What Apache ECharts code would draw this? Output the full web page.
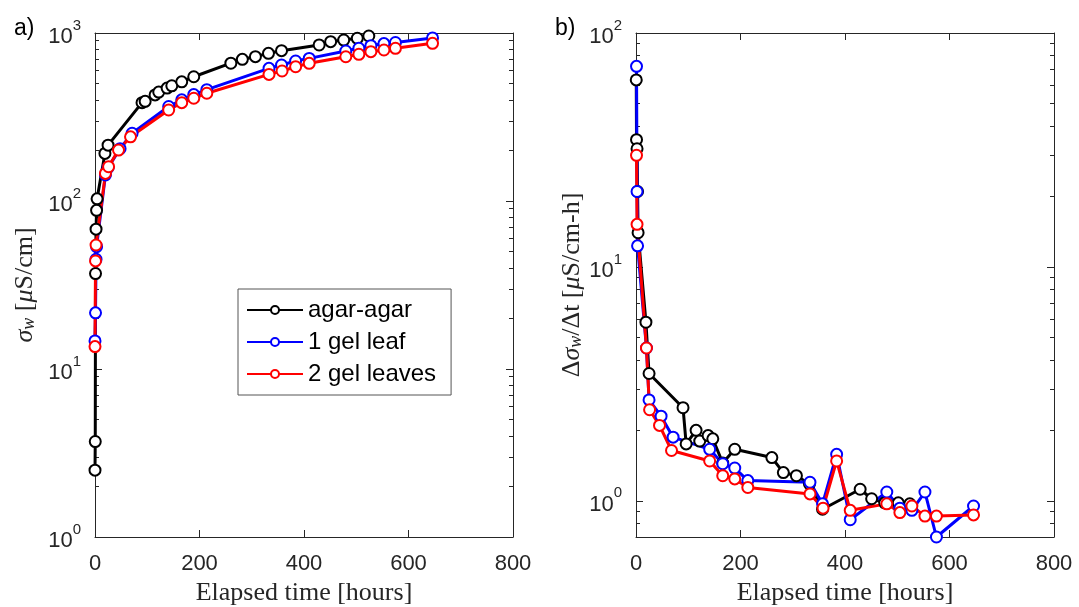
<!DOCTYPE html>
<html><head><meta charset="utf-8">
<script src="https://cdn.jsdelivr.net/npm/echarts@6/dist/echarts.min.js"></script>
<style>html,body{margin:0;padding:0;background:#fff}#c{width:1079px;height:607px}</style>
</head><body><div id="c"></div>
<script>
// ---- data (hours, conductivity µS/cm, rate µS/cm-h) ----
const tAgar = [0, 0.5, 1, 2, 3, 4, 19, 25, 90, 96, 115, 122, 138, 147, 166, 189, 260, 282, 307, 332, 357, 429, 451, 476, 502, 524];
const sigmaAgar = [2.5, 3.7, 37, 68, 88, 103, 192, 215, 385, 392, 428, 445, 470, 485, 512, 549, 661, 697, 723, 757, 785, 849, 888, 908, 930, 960];
const rateAgar = [63, 35, 32, 21, 14, 5.8, 3.5, 2.5, 1.75, 2.0, 1.8, 1.9, 1.84, 1.45, 1.66, 1.53, 1.32, 1.28, 1.18, 0.92, 1.12, 1.02, 0.98, 0.98, 0.97];

const tGel1 = [0, 1, 2, 3, 20, 25, 48, 71, 141, 166, 189, 214, 333, 357, 384, 410, 480, 505, 528, 553, 575, 646];
const sigmaGel1 = [14.7, 21.6, 45, 53.5, 143, 158, 205, 253, 365, 400, 430, 460, 616, 645, 681, 706, 781, 811, 840, 865, 878, 935];
const rateGel1 = [72, 21, 12.3, 4.5, 2.7, 2.3, 1.87, 1.66, 1.44, 1.38, 1.22, 1.2, 0.97, 1.58, 0.83, 1.09, 0.93, 0.91, 1.09, 0.70, 0.95];

const tGel2 = [0, 1, 2, 20, 26, 45, 68, 141, 166, 189, 214, 333, 358, 384, 410, 480, 505, 528, 553, 575, 646];
const sigmaGel2 = [13.6, 44, 54.7, 146, 160, 201, 241, 348, 385, 409, 438, 567, 594, 630, 660, 722, 747, 774, 792, 811, 868];
const rateGel2 = [30, 15.2, 4.5, 2.45, 2.1, 1.64, 1.48, 1.28, 1.24, 1.14, 1.07, 0.93, 1.48, 0.91, 0.97, 0.89, 0.95, 0.86, 0.86, 0.87];

const seriesNames = ['agar-agar', '1 gel leaf', '2 gel leaves'];
const seriesColors = ['#000000', '#0000ff', '#ff0000'];
const xTicks = [0, 200, 400, 600, 800];
const leftDecades = [1, 10, 100, 1000];
const rightDecades = [1, 10, 100];

// ---- helpers ----
const AX = '#262626';
function minorsBetween(lo, hi) {
  const out = [];
  for (let d = 0.1; d < hi; d *= 10) for (let k = 2; k <= 9; k++) { const v = +(k * d).toPrecision(6); if (v > lo && v < hi) out.push(v); }
  return out;
}
function pair(ts, vs, offset) { return vs.map((v, i) => [ts[i + offset], v]); }

const grids = [
  { left: 95, top: 33, width: 418, height: 504, containLabel: false, outerBoundsMode: 'none' },
  { left: 636, top: 33, width: 418, height: 504, containLabel: false, outerBoundsMode: 'none' }
];
const xAxes = [], yAxes = [];
grids.forEach((g, gi) => {
  const xBase = { type: 'value', gridIndex: gi, min: xTicks[0], max: xTicks[xTicks.length - 1], interval: 200,
    axisLine: { show: true, lineStyle: { color: AX, width: 1 } },
    axisTick: { show: true, inside: true, length: 7, lineStyle: { color: AX } },
    splitLine: { show: false } };
  xAxes.push(Object.assign({}, xBase, { position: 'bottom',
    axisLabel: { show: true, color: AX, fontSize: 22, fontFamily: 'Liberation Sans', margin: 16 },
    name: 'Elapsed time [hours]', nameLocation: 'middle', nameGap: 43,
    nameTextStyle: { color: AX, fontSize: 26, fontFamily: 'Liberation Serif' } }));
  xAxes.push(Object.assign({}, xBase, { position: 'top', axisLabel: { show: false } }));
});

const yRich = {
  b: { fontSize: 22, fontFamily: 'Liberation Sans', color: AX, verticalAlign: 'bottom', lineHeight: 30 },
  s: { fontSize: 15, fontFamily: 'Liberation Sans', color: AX, verticalAlign: 'top', lineHeight: 15 }
};
const nameRich = {
  n: { fontSize: 26, fontFamily: 'Liberation Serif', color: AX },
  i: { fontSize: 26, fontFamily: 'Liberation Serif', fontStyle: 'italic', color: AX },
  sub: { fontSize: 18, fontFamily: 'Liberation Serif', fontStyle: 'italic', color: AX, verticalAlign: 'bottom', lineHeight: 18, padding: [8, 0, 0, 0] }
};
function addY(gi, min, max, decades, name, nameGap) {
  const minors = minorsBetween(min, max);
  const base = { type: 'log', logBase: 10, gridIndex: gi, min: min, max: max, splitLine: { show: false } };
  yAxes.push(Object.assign({}, base, { position: 'left',
    axisLine: { show: true, lineStyle: { color: AX, width: 1 } },
    axisTick: { show: true, inside: true, length: 7, customValues: decades, lineStyle: { color: AX } },
    axisLabel: { show: true, customValues: decades, margin: 14, formatter: v => '{b|10}{s|' + Math.round(Math.log10(v)) + '}', rich: yRich },
    name: name, nameLocation: 'middle', nameGap: nameGap, nameRotate: 90,
    nameTextStyle: { rich: nameRich } }));
  yAxes.push(Object.assign({}, base, { position: 'left', axisLine: { show: false },
    axisTick: { show: true, inside: true, length: 4, customValues: minors, lineStyle: { color: AX } },
    axisLabel: { show: false } }));
  yAxes.push(Object.assign({}, base, { position: 'right',
    axisLine: { show: true, lineStyle: { color: AX, width: 1 } },
    axisTick: { show: true, inside: true, length: 7, customValues: decades, lineStyle: { color: AX } },
    axisLabel: { show: false } }));
  yAxes.push(Object.assign({}, base, { position: 'right', axisLine: { show: false },
    axisTick: { show: true, inside: true, length: 4, customValues: minors, lineStyle: { color: AX } },
    axisLabel: { show: false } }));
}
addY(0, 1, 1000, leftDecades, '{i|σ}{sub|w}{n| [}{i|μ}{n|S/cm]}', 57);
addY(1, 0.7, 100, rightDecades, '{n|Δ}{i|σ}{sub|w}{n|/Δt [}{i|μ}{n|S/cm-h]}', 50);

function lineSeries(name, color, data, xi, yi) {
  return { name: name, type: 'line', xAxisIndex: xi, yAxisIndex: yi, data: data, clip: false,
    symbol: 'emptyCircle', symbolSize: 11, showAllSymbol: true,
    lineStyle: { color: color, width: 3 }, itemStyle: { color: color, borderColor: color, borderWidth: 2.5 },
    emphasis: { disabled: true }, animation: false };
}
const left = [pair(tAgar, sigmaAgar, 0), pair(tGel1, sigmaGel1, 0), pair(tGel2, sigmaGel2, 0)];
const right = [pair(tAgar, rateAgar, 1), pair(tGel1, rateGel1, 1), pair(tGel2, rateGel2, 1)];
const series = [];
for (let k = 0; k < 3; k++) series.push(lineSeries(seriesNames[k], seriesColors[k], left[k], 0, 0));
for (let k = 0; k < 3; k++) series.push(lineSeries(seriesNames[k], seriesColors[k], right[k], 2, 4));

const chart = echarts.init(document.getElementById('c'));
chart.setOption({
  animation: false,
  backgroundColor: '#fff',
  title: [
    { text: 'a)', left: 9, top: 12, textStyle: { fontSize: 23, fontWeight: 'normal', fontFamily: 'Liberation Sans', color: '#000' } },
    { text: 'b)', left: 550, top: 12, textStyle: { fontSize: 23, fontWeight: 'normal', fontFamily: 'Liberation Sans', color: '#000' } }
  ],
  grid: grids,
  xAxis: xAxes,
  yAxis: yAxes,
  legend: { orient: 'vertical', left: 238, top: 289, data: seriesNames,
    backgroundColor: '#fff', borderColor: '#555', borderWidth: 1, padding: [9, 15, 9, 8],
    itemWidth: 56, itemHeight: 10, itemGap: 8, selectedMode: false,
    textStyle: { fontSize: 24, fontFamily: 'Liberation Sans', color: '#000' } },
  series: series
});
</script></body></html>
